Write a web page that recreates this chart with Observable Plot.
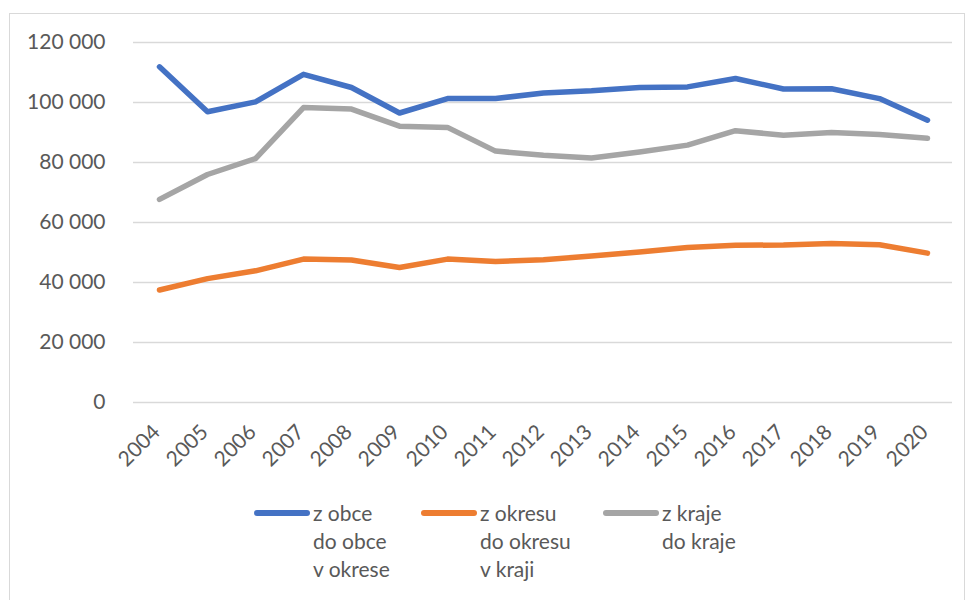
<!DOCTYPE html>
<html>
<head>
<meta charset="utf-8">
<script src="https://cdn.jsdelivr.net/npm/d3@7"></script>
<script src="https://cdn.jsdelivr.net/npm/@observablehq/plot@0.6"></script>
<style>
  body { margin: 0; background: #fff; }
  #wrap { position: relative; width: 966px; height: 600px; overflow: hidden; font-family: Lato, "Open Sans", sans-serif; }
  #frame { position: absolute; left: 9px; top: 13px; width: 956px; height: 700px; border: 1.5px solid #d9d9d9; box-sizing: border-box; }
  #chart { position: absolute; left: 0; top: 0; }
  .item { position: absolute; top: 499px; }
  .swatch { position: absolute; left: 0; top: 11px; width: 56px; height: 6px; border-radius: 3px; }
  .label { position: absolute; left: 59px; top: 0; font-size: 21px; line-height: 28px; color: #595959; white-space: pre; }
</style>
</head>
<body>
<div id="wrap">
  <div id="frame"></div>
  <div id="chart"></div>
  <div id="legend"></div>
</div>
<script>
const years = ["2004","2005","2006","2007","2008","2009","2010","2011","2012","2013","2014","2015","2016","2017","2018","2019","2020"];
const seriesNames = ["z obce\ndo obce\nv okrese", "z okresu\ndo okresu\nv kraji", "z kraje\ndo kraje"];
const seriesColors = ["#4472C4", "#ED7D31", "#A5A5A5"];
const obce   = [111900, 96900, 100200, 109400, 105000, 96500, 101300, 101300, 103200, 103900, 105000, 105200, 108000, 104500, 104600, 101300, 94100];
const okresu = [37500, 41300, 43900, 47800, 47500, 45000, 47800, 47000, 47600, 48800, 50200, 51700, 52400, 52500, 53000, 52600, 49800];
const kraje  = [67700, 76000, 81300, 98300, 97800, 92100, 91700, 83800, 82400, 81500, 83500, 85800, 90600, 89100, 90000, 89300, 88100];
const yTicks = [0, 20000, 40000, 60000, 80000, 100000, 120000];
const legendLeft = [254, 421, 603];

const seriesValues = [obce, okresu, kraje];
const data = seriesNames.flatMap((name, i) => years.map((year, j) => ({year, value: seriesValues[i][j], series: name})));
const locale = d3.formatLocale({decimal: ",", thousands: " ", grouping: [3], currency: ["", ""]});
const fmt = locale.format(",");

const chart = Plot.plot({
  width: 966,
  height: 480,
  marginLeft: 133,
  marginRight: 14,
  marginTop: 42,
  marginBottom: 78,
  style: {fontFamily: "Lato, 'Open Sans', sans-serif", fontSize: "21px", color: "#595959", background: "transparent", overflow: "visible"},
  x: {type: "point", domain: years, padding: 0.5, label: null},
  y: {domain: [0, 120000], label: null},
  color: {domain: seriesNames, range: seriesColors},
  marks: [
    Plot.gridY(yTicks, {stroke: "#d9d9d9", strokeOpacity: 1, strokeWidth: 1.5}),
    Plot.axisY(yTicks, {tickSize: 0, tickPadding: 28, tickFormat: fmt, label: null}),
    Plot.axisX(years, {tickSize: 0, tickRotate: -45, tickPadding: 26, dx: -3, label: null}),
    Plot.line(data, {x: "year", y: "value", stroke: "series", strokeWidth: 5.5, strokeLinecap: "round", strokeLinejoin: "round"})
  ]
});
document.getElementById("chart").appendChild(chart);

const legend = document.getElementById("legend");
seriesNames.forEach((name, i) => {
  const item = document.createElement("div");
  item.className = "item";
  item.style.left = legendLeft[i] + "px";
  const sw = document.createElement("div");
  sw.className = "swatch";
  sw.style.background = seriesColors[i];
  const lb = document.createElement("div");
  lb.className = "label";
  lb.textContent = name;
  item.appendChild(sw);
  item.appendChild(lb);
  legend.appendChild(item);
});
</script>
</body>
</html>
